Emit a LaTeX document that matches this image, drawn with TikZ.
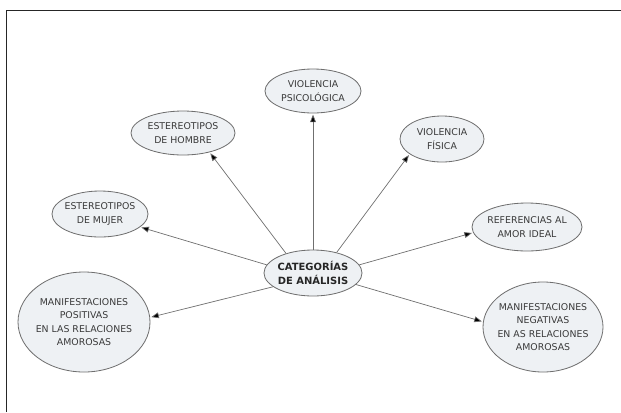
\documentclass[tikz,border=0pt]{standalone}
\usepackage{fontspec}
\setmainfont{DejaVu Sans}
\usetikzlibrary{shapes.geometric,arrows.meta}
\definecolor{relleno}{HTML}{EEF1F4}
\definecolor{borde}{HTML}{6F6F6F}
\definecolor{texto}{HTML}{3A3A3A}
\tikzset{
  globo/.style={ellipse,draw=borde,fill=relleno,line width=0.7pt,inner xsep=-0.5cm,inner ysep=-0.3cm,
    align=center,text=texto,font=\fontsize{8}{11.5}\selectfont},
  flecha/.style={draw=borde,line width=0.6pt,-{Triangle[length=6.5pt,width=5pt,fill=black]},shorten >=1pt}
}
\begin{document}
\begin{tikzpicture}[x=0.03cm,y=-0.03cm]
    \useasboundingbox (0,0) rectangle (621,412);
    \draw[line width=0.8pt,black!85] (6,412) -- (6,10) -- (621,10);
    % categorias alrededor
    \node[globo,minimum width=2.88cm,minimum height=1.32cm] (psic) at (313,91) {VIOLENCIA\\PSICOLÓGICA};
    \node[globo,minimum width=3.12cm,minimum height=1.32cm] (hombre) at (183,133) {ESTEREOTIPOS\\DE HOMBRE};
    \node[globo,minimum width=2.52cm,minimum height=1.38cm] (fisica) at (442,139) {VIOLENCIA\\FÍSICA};
    \node[globo,minimum width=2.88cm,minimum height=1.38cm] (mujer) at (100,214) {ESTEREOTIPOS\\DE MUJER};
    \node[globo,minimum width=3.3cm,minimum height=1.44cm] (amor) at (527,227) {REFERENCIAS AL\\AMOR IDEAL};
    \node[globo,minimum width=3.96cm,minimum height=3cm] (positivas) at (84,322) {MANIFESTACIONES\\POSITIVAS\\EN LAS RELACIONES\\AMOROSAS};
    \node[globo,minimum width=3.6cm,minimum height=2.7cm] (negativas) at (543,327) {MANIFESTACIONES\\NEGATIVAS\\EN AS RELACIONES\\AMOROSAS};
    % centro
    \node[globo,minimum width=2.94cm,minimum height=1.38cm,font=\fontsize{8.5}{12}\selectfont\bfseries,text=black!85] (cat) at (313,273) {CATEGORÍAS\\DE ANÁLISIS};
    \foreach \a/\b in {cat.north/psic.south,cat.144/hombre.-36,cat.41/fisica.205,cat.170/mujer.-18,
        cat.10/amor.186,cat.199/positivas.4,cat.-15/negativas.175}
        \draw[flecha] (\a) -- (\b);
\end{tikzpicture}
\end{document}
